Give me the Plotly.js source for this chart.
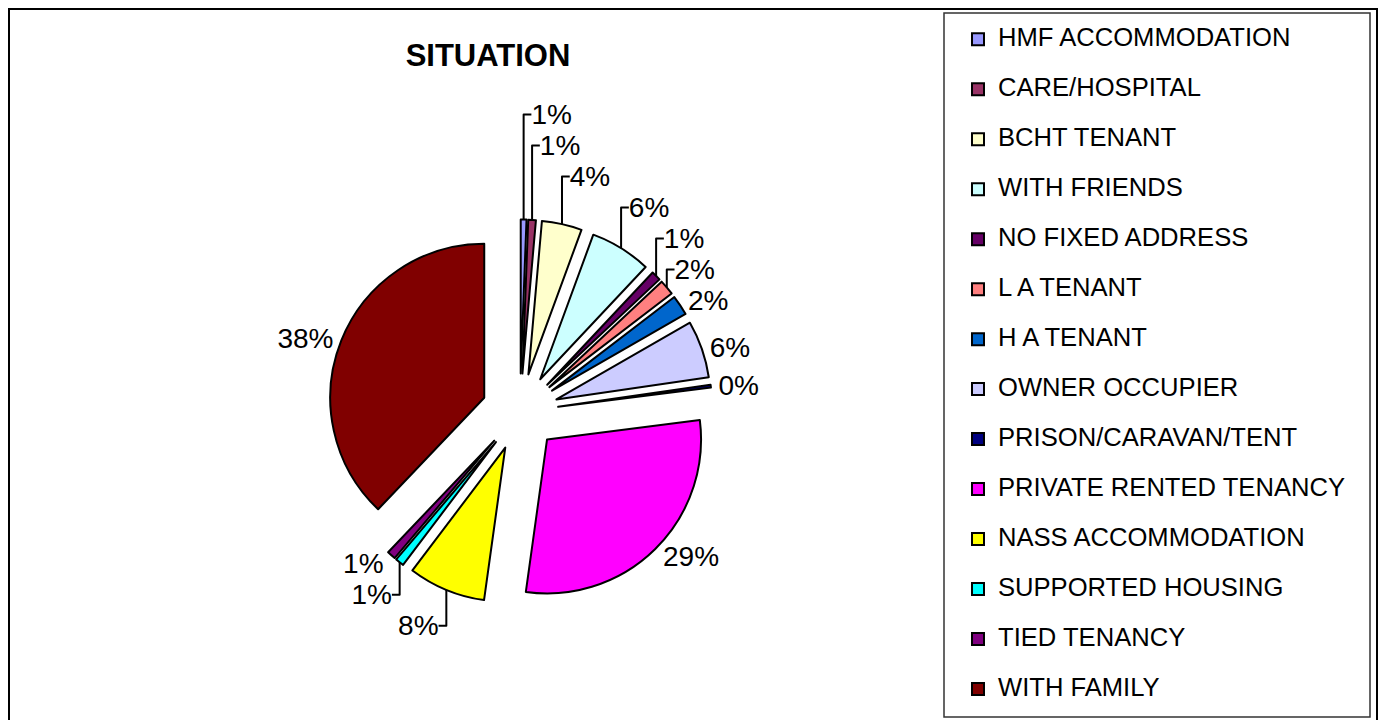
<!DOCTYPE html>
<html>
<head>
<meta charset="utf-8">
<script src="https://cdn.plot.ly/plotly-3.0.1.min.js"></script>
<style>
  html, body { margin: 0; padding: 0; background: #ffffff; }
  #chart { width: 1382px; height: 720px; }
</style>
</head>
<body>
<div id="chart"></div>
<script>
// ---- data ----
var categories = [
  "HMF ACCOMMODATION",
  "CARE/HOSPITAL",
  "BCHT TENANT",
  "WITH FRIENDS",
  "NO FIXED ADDRESS",
  "L A TENANT",
  "H A TENANT",
  "OWNER OCCUPIER",
  "PRISON/CARAVAN/TENT",
  "PRIVATE RENTED TENANCY",
  "NASS ACCOMMODATION",
  "SUPPORTED HOUSING",
  "TIED TENANCY",
  "WITH FAMILY"
];
var sharePercent = [0.6, 0.8, 4.2, 6.4, 1.0, 1.6, 2.1, 6.0, 0.3, 29.2, 8.1, 0.9, 0.9, 37.9];
var sliceColors = [
  "#9999FF", "#993366", "#FFFFCC", "#CCFFFF", "#660066", "#FF8080", "#0066CC",
  "#CCCCFF", "#000080", "#FF00FF", "#FFFF00", "#00FFFF", "#800080", "#800000"
];
var chartTitle = "SITUATION";

// ---- layout helpers (pixel -> paper) ----
var W = 1382, H = 720;
function px(x) { return x / W; }
function py(y) { return 1 - y / H; }

// legend entries: larger text, blank second line for Excel-like spacing
var legendLabels = categories.map(function (c) {
  return '<span style="font-size:25.6px">' + c + '</span><br>&nbsp;';
});

var pieCx = 520, pieCy = 412, pieR = 154, pullFrac = 0.25;
var half = pieR * (1 + pullFrac);

var trace = {
  type: "pie",
  labels: legendLabels,
  values: sharePercent,
  sort: false,
  direction: "clockwise",
  rotation: 0,
  pull: sharePercent.map(function () { return pullFrac; }),
  marker: { colors: sliceColors, line: { color: "#000000", width: 2 } },
  texttemplate: "%{percent:.0%}",
  textposition: "outside",
  outsidetextfont: { family: "Liberation Sans, Arial, sans-serif", size: 28, color: "#000000" },
  hoverinfo: "none",
  domain: {
    x: [px(pieCx - half), px(pieCx + half)],
    y: [py(pieCy + half), py(pieCy - half)]
  },
  automargin: false
};

var layout = {
  width: W,
  height: H,
  margin: { l: 0, r: 0, t: 0, b: 0, autoexpand: false },
  paper_bgcolor: "#ffffff",
  font: { family: "Liberation Sans, Arial, sans-serif", color: "#000000" },
  title: {
    text: chartTitle,
    x: px(488), xref: "paper", xanchor: "center",
    y: py(55), yref: "container", yanchor: "middle",
    font: { family: "Liberation Sans, Arial, sans-serif", size: 31, weight: "bold", color: "#000000" }
  },
  showlegend: true,
  legend: {
    x: px(958), xanchor: "left",
    y: py(21), yanchor: "top",
    bgcolor: "rgba(0,0,0,0)",
    borderwidth: 0,
    valign: "top",
    font: { family: "Liberation Sans, Arial, sans-serif", size: 18.07, color: "#000000" },
    traceorder: "normal"
  },
  shapes: [
    { type: "rect", xref: "paper", yref: "paper",
      x0: px(9), x1: px(1377), y0: py(735), y1: py(9),
      line: { color: "#000000", width: 2 }, fillcolor: "rgba(0,0,0,0)" },
    { type: "rect", xref: "paper", yref: "paper",
      x0: px(944), x1: px(1370), y0: py(717), y1: py(13),
      line: { color: "#333333", width: 1.5 }, fillcolor: "rgba(0,0,0,0)" }
  ]
};

Plotly.newPlot("chart", [trace], layout, { displayModeBar: false, staticPlot: true });
</script>
</body>
</html>
